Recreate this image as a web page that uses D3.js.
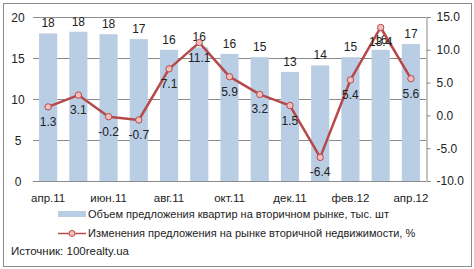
<!DOCTYPE html>
<html><head><meta charset="utf-8">
<script src="https://cdn.jsdelivr.net/npm/d3@7"></script>
<style>body{margin:0;background:#fff}svg{display:block;font-family:"Liberation Sans",Arial,sans-serif}</style>
</head><body>
<svg id="c" width="474" height="269"></svg>
<script>
const categories = ["апр.11","май.11","июн.11","июл.11","авг.11","сен.11","окт.11","ноя.11","дек.11","янв.12","фев.12","мар.12","апр.12"];
const volume = [18.0, 18.2, 17.9, 17.3, 16.0, 16.3, 15.5, 15.1, 13.3, 14.1, 15.1, 16.0, 16.7];
const volumeLabels = ["18","18","18","17","16","16","16","15","13","14","15","16","17"];
const change = [1.3, 3.1, -0.2, -0.7, 7.1, 11.1, 5.9, 3.2, 1.5, -6.4, 5.4, 13.4, 5.6];
const leftTicks = [0, 5, 10, 15, 20];
const rightTicks = [-10, -5, 0, 5, 10, 15];
const legendBar = "Объем предложения квартир на вторичном рынке, тыс. шт";
const legendLine = "Изменения предложения на рынке вторичной недвижимости, %";
const source = "Источник: 100realty.ua";

const svg = d3.select("#c");
const L = 33, R = 426, T = 17, B = 181;
svg.append("rect").attr("x",3.5).attr("y",3.5).attr("width",468).attr("height",263)
  .attr("fill","#fff").attr("stroke","#8c8c8c");

const x = d3.scaleBand().domain(categories).range([L, R]).paddingInner(0.4).paddingOuter(0.2);
const yL = d3.scaleLinear().domain([0,20]).range([B,T]);
const yR = d3.scaleLinear().domain([-10,15]).range([B,T]);

// gridlines
svg.append("g").selectAll("line").data(leftTicks).join("line")
  .attr("x1",L).attr("x2",R).attr("y1",d=>yL(d)+0.5).attr("y2",d=>yL(d)+0.5)
  .attr("stroke","#8a8a8a").attr("stroke-width",1);

// left axis labels
svg.append("g").selectAll("text").data(leftTicks).join("text")
  .attr("x",18).attr("y",d=>yL(d)+4.5).attr("text-anchor","middle")
  .attr("font-size",12).attr("fill","#222").text(d=>d);

// right axis
const ra = svg.append("g").attr("transform",`translate(${R+0.5},0)`)
  .call(d3.axisRight(yR).tickValues(rightTicks).tickSize(4).tickPadding(6).tickFormat(d3.format(".1f")));
ra.select(".domain").attr("stroke","#888");
ra.selectAll(".tick line").attr("stroke","#888");
ra.selectAll("text").attr("font-size",12).attr("fill","#222").attr("font-family","Liberation Sans, Arial, sans-serif")
  .text(d=>d3.format(".1f")(d).replace("−","-"));

// bars
svg.append("g").selectAll("rect").data(volume).join("rect")
  .attr("x",(d,i)=>x(categories[i])).attr("width",x.bandwidth())
  .attr("y",d=>yL(d)).attr("height",d=>yL(0)-yL(d)).attr("fill","#b9cde5");

// bar labels
svg.append("g").selectAll("text").data(volume).join("text")
  .attr("x",(d,i)=>x(categories[i])+x.bandwidth()/2).attr("y",d=>yL(d)-6)
  .attr("text-anchor","middle").attr("font-size",12).attr("fill","#222")
  .text((d,i)=>volumeLabels[i]);

// line
const cx = i => x(categories[i]) + x.bandwidth()/2;
const line = d3.line().x((d,i)=>cx(i)).y(d=>yR(d));
svg.append("path").datum(change).attr("d",line).attr("fill","none")
  .attr("stroke","#b7494a").attr("stroke-width",2.5).attr("stroke-linejoin","round");
svg.append("g").selectAll("circle").data(change).join("circle")
  .attr("cx",(d,i)=>cx(i)).attr("cy",d=>yR(d)).attr("r",3.2)
  .attr("fill","#f0c0bf").attr("stroke","#b7494a").attr("stroke-width",1);

// line labels
svg.append("g").selectAll("text").data(change).join("text")
  .attr("x",(d,i)=>cx(i)).attr("y",d=>yR(d)+19)
  .attr("text-anchor","middle").attr("font-size",12).attr("fill","#222")
  .text(d=>d3.format(".1f")(d).replace("−","-"));

// x labels (every other)
svg.append("g").selectAll("text").data(categories.filter((d,i)=>i%2===0)).join("text")
  .attr("x",d=>x(d)+x.bandwidth()/2).attr("y",202).attr("text-anchor","middle")
  .attr("font-size",11.5).attr("fill","#222").text(d=>d);

// legend
svg.append("rect").attr("x",58).attr("y",211).attr("width",28).attr("height",6).attr("fill","#b9cde5");
svg.append("text").attr("x",88).attr("y",218).attr("font-size",11).attr("fill","#222").text(legendBar);
svg.append("line").attr("x1",58).attr("x2",86).attr("y1",233.5).attr("y2",233.5).attr("stroke","#b7494a").attr("stroke-width",1.5);
svg.append("circle").attr("cx",72).attr("cy",233.5).attr("r",3).attr("fill","#f0c0bf").attr("stroke","#b7494a");
svg.append("text").attr("x",88).attr("y",237).attr("font-size",11).attr("fill","#222").text(legendLine);
svg.append("text").attr("x",11).attr("y",255).attr("font-size",11.5).attr("fill","#222").text(source);
</script>
</body></html>
